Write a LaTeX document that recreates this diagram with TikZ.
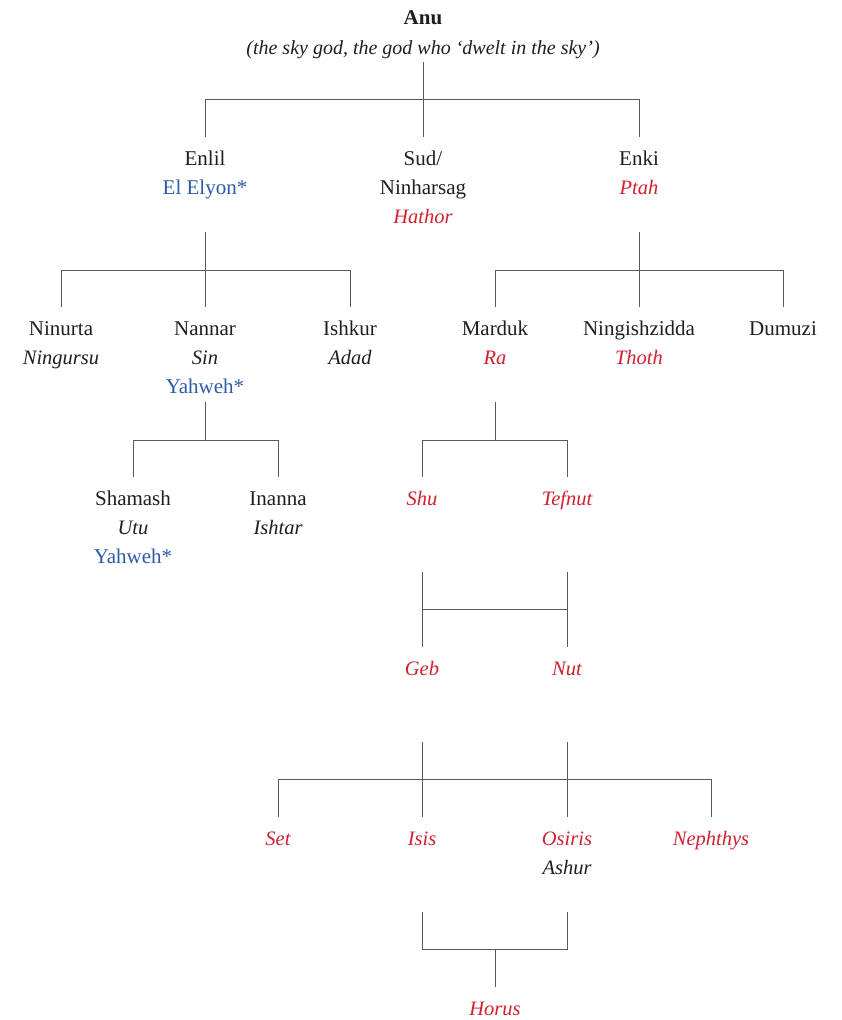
\documentclass[tikz,border=0pt]{standalone}
\usepackage{fontspec}
\setmainfont{Liberation Serif}
\definecolor{gred}{HTML}{D0202E}
\definecolor{gblue}{HTML}{2B5BA8}
\definecolor{gline}{HTML}{5A5A5A}
\definecolor{gtext}{HTML}{1E1E1E}
\begin{document}
\begin{tikzpicture}[x=1pt,y=1pt,
  lbl/.style={anchor=base,inner sep=0pt,text height=16pt,text depth=6pt,outer ysep=12pt,
    font=\fontsize{21}{25}\selectfont,text=gtext},
  it/.style={lbl,font=\fontsize{20.5}{25}\selectfont\itshape},
  red/.style={it,text=gred},
  blue/.style={lbl,text=gblue},
  conn/.style={draw=gline,line width=1pt}]
\useasboundingbox (0,0) rectangle (841,-1020);
% top
\node[lbl,font=\fontsize{21}{25}\selectfont\bfseries] (anu) at (423,-24) {Anu};
\node[it,font=\fontsize{20}{25}\selectfont\itshape] (anusub) at (423,-54) {(the sky god, the god who ‘dwelt in the sky’)};
% row 1
\node[lbl] (enlil) at (205,-165) {Enlil};
\node[blue] (enlil2) at (205,-194) {El Elyon*};
\node[lbl] (sud) at (423,-165) {Sud/};
\node[lbl] (sud2) at (423,-194) {Ninharsag};
\node[red] (sud3) at (423,-223) {Hathor};
\node[lbl] (enki) at (639,-165) {Enki};
\node[red] (enki2) at (639,-194) {Ptah};
% row 2
\node[lbl] (ninurta) at (61,-335) {Ninurta};
\node[it] (ninurta2) at (61,-364) {Ningursu};
\node[lbl] (nannar) at (205,-335) {Nannar};
\node[it] (nannar2) at (205,-364) {Sin};
\node[blue] (nannar3) at (205,-393) {Yahweh*};
\node[lbl] (ishkur) at (350,-335) {Ishkur};
\node[it] (ishkur2) at (350,-364) {Adad};
\node[lbl] (marduk) at (495,-335) {Marduk};
\node[red] (marduk2) at (495,-364) {Ra};
\node[lbl] (ningish) at (639,-335) {Ningishzidda};
\node[red] (ningish2) at (639,-364) {Thoth};
\node[lbl] (dumuzi) at (783,-335) {Dumuzi};
% row 3
\node[lbl] (shamash) at (133,-505) {Shamash};
\node[it] (shamash2) at (133,-534) {Utu};
\node[blue] (shamash3) at (133,-563) {Yahweh*};
\node[lbl] (inanna) at (278,-505) {Inanna};
\node[it] (inanna2) at (278,-534) {Ishtar};
\node[red] (shu) at (422,-505) {Shu};
\node[red] (tefnut) at (567,-505) {Tefnut};
% row 4
\node[red] (geb) at (422,-675) {Geb};
\node[red] (nut) at (567,-675) {Nut};
% row 5
\node[red] (set) at (278,-845) {Set};
\node[red] (isis) at (422,-845) {Isis};
\node[red] (osiris) at (567,-845) {Osiris};
\node[it] (osiris2) at (567,-874) {Ashur};
\node[red] (nephthys) at (711,-845) {Nephthys};
% row 6
\node[red] (horus) at (495,-1015) {Horus};
% connectors
\draw[conn] ([yshift=-8pt]anusub.base) -- (sud.north);
\draw[conn] (enlil.north) -- ++(0,38) -| (enki.north);
\draw[conn] ([yshift=-38pt]enlil2.base) -- (nannar.north);
\draw[conn] (ninurta.north) -- ++(0,37) -| (ishkur.north);
\draw[conn] ([yshift=-38pt]enki2.base) -- (ningish.north);
\draw[conn] (marduk.north) -- ++(0,37) -| (dumuzi.north);
\draw[conn] ([yshift=-9pt]nannar3.base) -- ++(0,-38);
\draw[conn] (shamash.north) -- ++(0,37) -| (inanna.north);
\draw[conn] ([yshift=-38pt]marduk2.base) -- ++(0,-38);
\draw[conn] (shu.north) -- ++(0,37) -| (tefnut.north);
\draw[conn] ([yshift=-67pt]shu.base) -- (geb.north);
\draw[conn] ([yshift=-67pt]tefnut.base) -- (nut.north);
\draw[conn] ([yshift=38pt]geb.north) -- ([yshift=38pt]nut.north);
\draw[conn] ([yshift=-67pt]geb.base) -- (isis.north);
\draw[conn] ([yshift=-67pt]nut.base) -- (osiris.north);
\draw[conn] (set.north) -- ++(0,38) -| (nephthys.north);
\draw[conn] ([yshift=-67pt]isis.base) -- ++(0,-37) -| ([yshift=-38pt]osiris2.base);
\draw[conn] (horus.north) -- ++(0,38);
\end{tikzpicture}
\end{document}
